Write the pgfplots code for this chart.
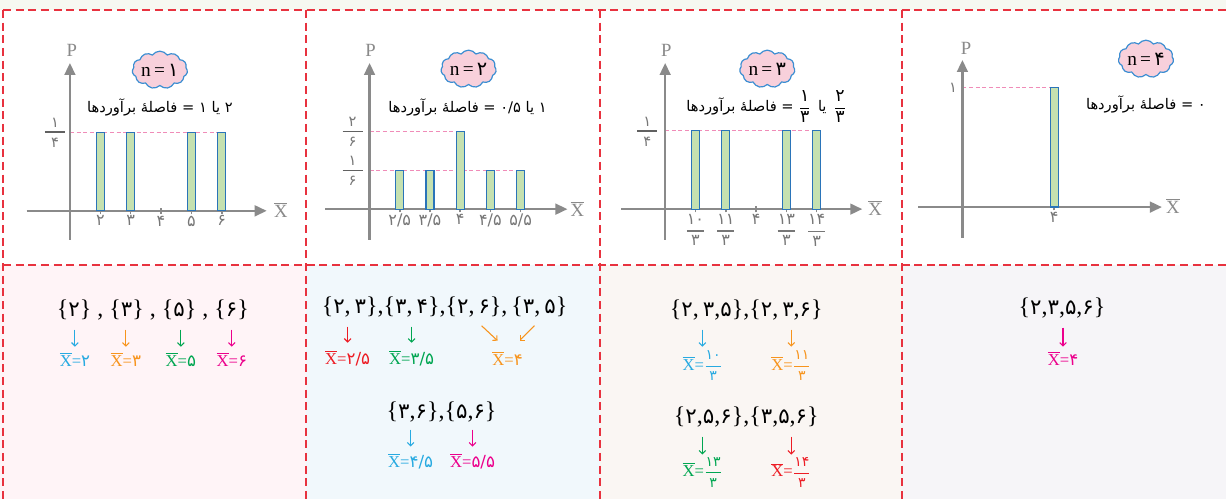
\documentclass[border=0pt]{standalone}
\usepackage{fontspec}
\usepackage{amsmath}
\usepackage{pgfplots}
\pgfplotsset{compat=1.18}
\usetikzlibrary{arrows.meta,shapes.symbols}
\setmainfont{Liberation Serif}
\newfontfamily\fa[Script=Arabic]{DejaVu Sans}
\TeXXeTstate=1

\definecolor{axgray}{HTML}{8A8A8A}
\definecolor{tickgray}{HTML}{777777}
\definecolor{bordred}{HTML}{E8323F}
\definecolor{barfill}{HTML}{C5E1B0}
\definecolor{barline}{HTML}{2A74B9}
\definecolor{dashpink}{HTML}{F08CB8}
\definecolor{cloudfill}{HTML}{F8D0DB}
\definecolor{cloudline}{HTML}{3C8ED2}
\definecolor{bgone}{HTML}{FFF4F7}
\definecolor{bgtwo}{HTML}{F1F8FC}
\definecolor{bgthree}{HTML}{FAF6F3}
\definecolor{bgfour}{HTML}{F6F5F8}
\definecolor{strip}{HTML}{F6F8F1}
\definecolor{ccyan}{HTML}{27AAE1}
\definecolor{corange}{HTML}{F7941D}
\definecolor{cgreen}{HTML}{00A651}
\definecolor{cmag}{HTML}{EC008C}
\definecolor{cred}{HTML}{ED1C24}

\newcommand\fd[1]{{\fa #1}}
\newcommand\sd[1]{{\fa\fontsize{16}{16}\selectfont #1}}
\newcommand\sz{\fontsize{18}{18}\selectfont}
\newcommand\xb{$\overline{\hbox{X}}$}
\newcommand\lab[2]{{\color{#1}\fontsize{12.5}{12.5}\selectfont\xb=\fd{#2}}}
\newcommand\labf[3]{{\color{#1}\fontsize{12.5}{12.5}\selectfont\xb=$\genfrac{}{}{0.7pt}{0}{\hbox{\fa\fontsize{10.5}{10.5}\selectfont #2}}{\hbox{\fa\fontsize{10.5}{10.5}\selectfont #3}}$}}
\newcommand\tf[2]{$\genfrac{}{}{0.8pt}{0}{\makebox[13pt]{\fa #1}}{\makebox[13pt]{\fa #2}}$}
\newcommand\bfr[2]{\hbox{$\genfrac{}{}{0.8pt}{0}{\hbox{\fa\fontsize{13}{13}\selectfont #1}}{\hbox{\fa\fontsize{13}{13}\selectfont #2}}$}}
\newcommand\yfr[4]{%
  \draw[axgray!70!black, line width=1.1pt] (#1-10,#2) -- (#1+10,#2);
  \node[text=tickgray, font=\fa\fontsize{11}{11}\selectfont] at (#1,#2-9.5) {#3};
  \node[text=tickgray, font=\fa\fontsize{11}{11}\selectfont] at (#1,#2+10.5) {#4};}
\newcommand\darr[4]{\draw[#1, line width=0.8pt, -{Straight Barb[length=2.5pt,width=5pt]}] (#2,#3) -- (#2,#4);}

\pgfplotsset{
  panel/.style={scale only axis, enlargelimits=false, clip=false, anchor=south west,
    axis x line=middle, axis y line=none,
    every inner x axis line/.style={-{Triangle[length=9pt,width=8pt]}},
    axis line style={draw=axgray, line width=1.8pt},
    x tick style={draw=axgray, line width=1.1pt},
    major tick length=5pt, ytick=\empty,
    xticklabel style={font=\fa\fontsize{12}{12}\selectfont, text=tickgray, inner sep=1pt}},
  pbar/.style={ybar, bar width=6pt, bar shift=0pt, fill=barfill, draw=barline, line width=0.9pt},
}
\tikzset{
  pdash/.style={draw=dashpink, line width=0.9pt, dash pattern=on 3pt off 2pt},
  yax/.style={draw=axgray, line width=1.8pt, -{Triangle[length=9pt,width=8pt]}},
}

\begin{document}
\begin{tikzpicture}
\begin{scope}[x=0.75pt,y=-0.75pt]
\path[use as bounding box] (0,0) rectangle (1227,499);
\fill[strip] (0,0) rectangle (1227,10);
\fill[white] (0,10) rectangle (1227,265);
\fill[bgone] (0,265) rectangle (306,499);
\fill[bgtwo] (306,265) rectangle (600.5,499);
\fill[bgthree] (600.5,265) rectangle (903,499);
\fill[bgfour] (903,265) rectangle (1227,499);
\end{scope}

% n = 1
\begin{axis}[panel, at={(20.03pt,-180pt)}, width=180.2pt, height=132.75pt,
  xmin=-0.424, xmax=7.48, ymin=-0.092, ymax=0.470,
  xtick={2,3,4,5,6}, xticklabels={۲,۳,۴,۵,۶}]
\draw[pdash] (axis cs:1,0.25) -- (axis cs:6,0.25);
\addplot[pbar] coordinates {(2,0.25) (3,0.25) (5,0.25) (6,0.25)};
\draw[yax] (axis cs:1,-0.092) -- (axis cs:1,0.470);
\end{axis}

% n = 2
\begin{axis}[panel, at={(244.3pt,-180pt)}, width=181.7pt, height=132.75pt,
  xmin=-1.46, xmax=6.55, ymin=-0.132, ymax=0.630,
  xtick={1,2,3,4,5}, xticklabels={۲/۵,۳/۵,۴,۴/۵,۵/۵}]
\draw[pdash] (axis cs:0,0.3333) -- (axis cs:3,0.3333);
\draw[pdash] (axis cs:0,0.1667) -- (axis cs:5,0.1667);
\addplot[pbar] coordinates {(1,0.1667) (2,0.1667) (3,0.3333) (4,0.1667) (5,0.1667)};
\draw[yax] (axis cs:0,-0.132) -- (axis cs:0,0.630);
\end{axis}

% n = 3
\begin{axis}[panel, at={(466.3pt,-180pt)}, width=181pt, height=132.75pt,
  xmin=2.516, xmax=5.168, ymin=-0.098, ymax=0.467,
  xtick={3.3333,3.6667,4,4.3333,4.6667},
  xticklabels={\tf{۱۰}{۳},\tf{۱۱}{۳},۴,\tf{۱۳}{۳},\tf{۱۴}{۳}}]
\draw[pdash] (axis cs:3,0.25) -- (axis cs:4.6667,0.25);
\addplot[pbar] coordinates {(3.3333,0.25) (3.6667,0.25) (4.3333,0.25) (4.6667,0.25)};
\draw[yax] (axis cs:3,-0.098) -- (axis cs:3,0.467);
\end{axis}

% n = 4
\begin{axis}[panel, at={(689.25pt,-178.5pt)}, width=183pt, height=133.5pt,
  xmin=-0.448, xmax=7.526, ymin=-0.257, ymax=1.232,
  xtick={4}, xticklabels={۴}]
\draw[pdash] (axis cs:1,1) -- (axis cs:4,1);
\addplot[pbar] coordinates {(4,1)};
\draw[yax] (axis cs:1,-0.257) -- (axis cs:1,1.232);
\end{axis}

\begin{scope}[x=0.75pt,y=-0.75pt]
% borders
\begin{scope}[draw=bordred, line width=1.7pt, dash pattern=on 6pt off 3.5pt]
\draw (3,10) -- (1227,10);
\draw (3,265) -- (1227,265);
\draw (3,10) -- (3,499);
\draw (306,10) -- (306,499);
\draw (600.5,10) -- (600.5,499);
\draw (903,10) -- (903,499);
\end{scope}

% axis labels
\begin{scope}[text=axgray, font=\fontsize{14}{14}\selectfont]
\node at (72,50) {P};
\node at (371,50) {P};
\node at (667,50) {P};
\node at (967,48) {P};
\node at (281,210) {$\overline{\hbox{X}}$};
\node at (578,209) {$\overline{\hbox{X}}$};
\node at (876,208) {$\overline{\hbox{X}}$};
\node at (1174,206) {$\overline{\hbox{X}}$};
\end{scope}

% y labels
\yfr{55}{132}{۱}{۴}
\yfr{353}{131.7}{۲}{۶}
\yfr{353}{170.7}{۱}{۶}
\yfr{648}{131}{۱}{۴}
\node[text=tickgray, font=\fa\fontsize{11}{11}\selectfont] at (954,88) {۱};

% clouds
\begin{scope}[every node/.style={cloud, cloud puffs=11, cloud puff arc=110, aspect=1.7,
   draw=cloudline, fill=cloudfill, line width=0.9pt, inner sep=0pt,
   minimum width=37pt, minimum height=23pt, font=\fontsize{14.5}{14.5}\selectfont}]
\node at (160,70) {n\,=\,\fd{۱}};
\node at (469,69) {n\,=\,\fd{۲}};
\node at (768,69) {n\,=\,\fd{۳}};
\node at (1147,59) {n\,=\,\fd{۴}};
\end{scope}

% distance texts
\node at (160,108) {\fa\fontsize{11}{12}\selectfont\beginR ۲ یا ۱ = فاصلهٔ برآوردها\endR};
\node at (468,108) {\fa\fontsize{11}{12}\selectfont\beginR ۱ یا \beginL ۰/۵\endL{} = فاصلهٔ برآوردها\endR};
\node at (767,107) {\fa\fontsize{11}{12}\selectfont\beginR \bfr{۲}{۳}\, یا \,\bfr{۱}{۳} = فاصلهٔ برآوردها\endR};
\node at (1147,105) {\fa\fontsize{11}{12}\selectfont\beginR ۰ = فاصلهٔ برآوردها\endR};

% cell 1
\node at (153,310) {\sz\{\sd{۲}\} , \{\sd{۳}\} , \{\sd{۵}\} , \{\sd{۶}\}};
\darr{ccyan}{75}{330}{347}
\darr{corange}{126}{330}{347}
\darr{cgreen}{181}{330}{347}
\darr{cmag}{232}{330}{347}
\node at (75,360) {\lab{ccyan}{۲}};
\node at (126,360) {\lab{corange}{۳}};
\node at (181,360) {\lab{cgreen}{۵}};
\node at (232,360) {\lab{cmag}{۶}};

% cell 2
\node at (445,307) {\sz\{\sd{۲},\,\sd{۳}\},\{\sd{۳},\,\sd{۴}\},\{\sd{۲},\,\sd{۶}\},\,\{\sd{۳},\,\sd{۵}\}};
\darr{cred}{348}{327}{343}
\darr{cgreen}{412}{327}{343}
\draw[corange, line width=0.8pt, -{Straight Barb[length=2.5pt,width=5pt]}] (482,326) -- (498,341);
\draw[corange, line width=0.8pt, -{Straight Barb[length=2.5pt,width=5pt]}] (535,326) -- (520,341);
\node at (348,359) {\lab{cred}{۲/۵}};
\node at (412,359) {\lab{cgreen}{۳/۵}};
\node at (508,359) {\lab{corange}{۴}};
\node at (442,412) {\sz\{\sd{۳},\sd{۶}\},\{\sd{۵},\sd{۶}\}};
\darr{ccyan}{411}{430}{447}
\darr{cmag}{473}{430}{447}
\node at (411,462) {\lab{ccyan}{۴/۵}};
\node at (473,462) {\lab{cmag}{۵/۵}};

% cell 3
\node at (747,310) {\sz\{\sd{۲},\,\sd{۳},\sd{۵}\},\{\sd{۲},\,\sd{۳},\sd{۶}\}};
\darr{ccyan}{703}{330}{347}
\darr{corange}{792}{330}{347}
\node at (703,366) {\labf{ccyan}{۱۰}{۳}};
\node at (792,366) {\labf{corange}{۱۱}{۳}};
\node at (747,417) {\sz\{\sd{۲},\sd{۵},\sd{۶}\},\{\sd{۳},\sd{۵},\sd{۶}\}};
\darr{cgreen}{703}{437}{455}
\darr{cred}{792}{437}{455}
\node at (703,473) {\labf{cgreen}{۱۳}{۳}};
\node at (792,473) {\labf{cred}{۱۴}{۳}};

% cell 4
\node at (1063,308) {\sz\{\sd{۲},\sd{۳},\sd{۵},\sd{۶}\}};
\darr{cmag}{1064}{328}{347}
\node at (1064,359) {\lab{cmag}{۴}};
\end{scope}
\end{tikzpicture}
\end{document}
